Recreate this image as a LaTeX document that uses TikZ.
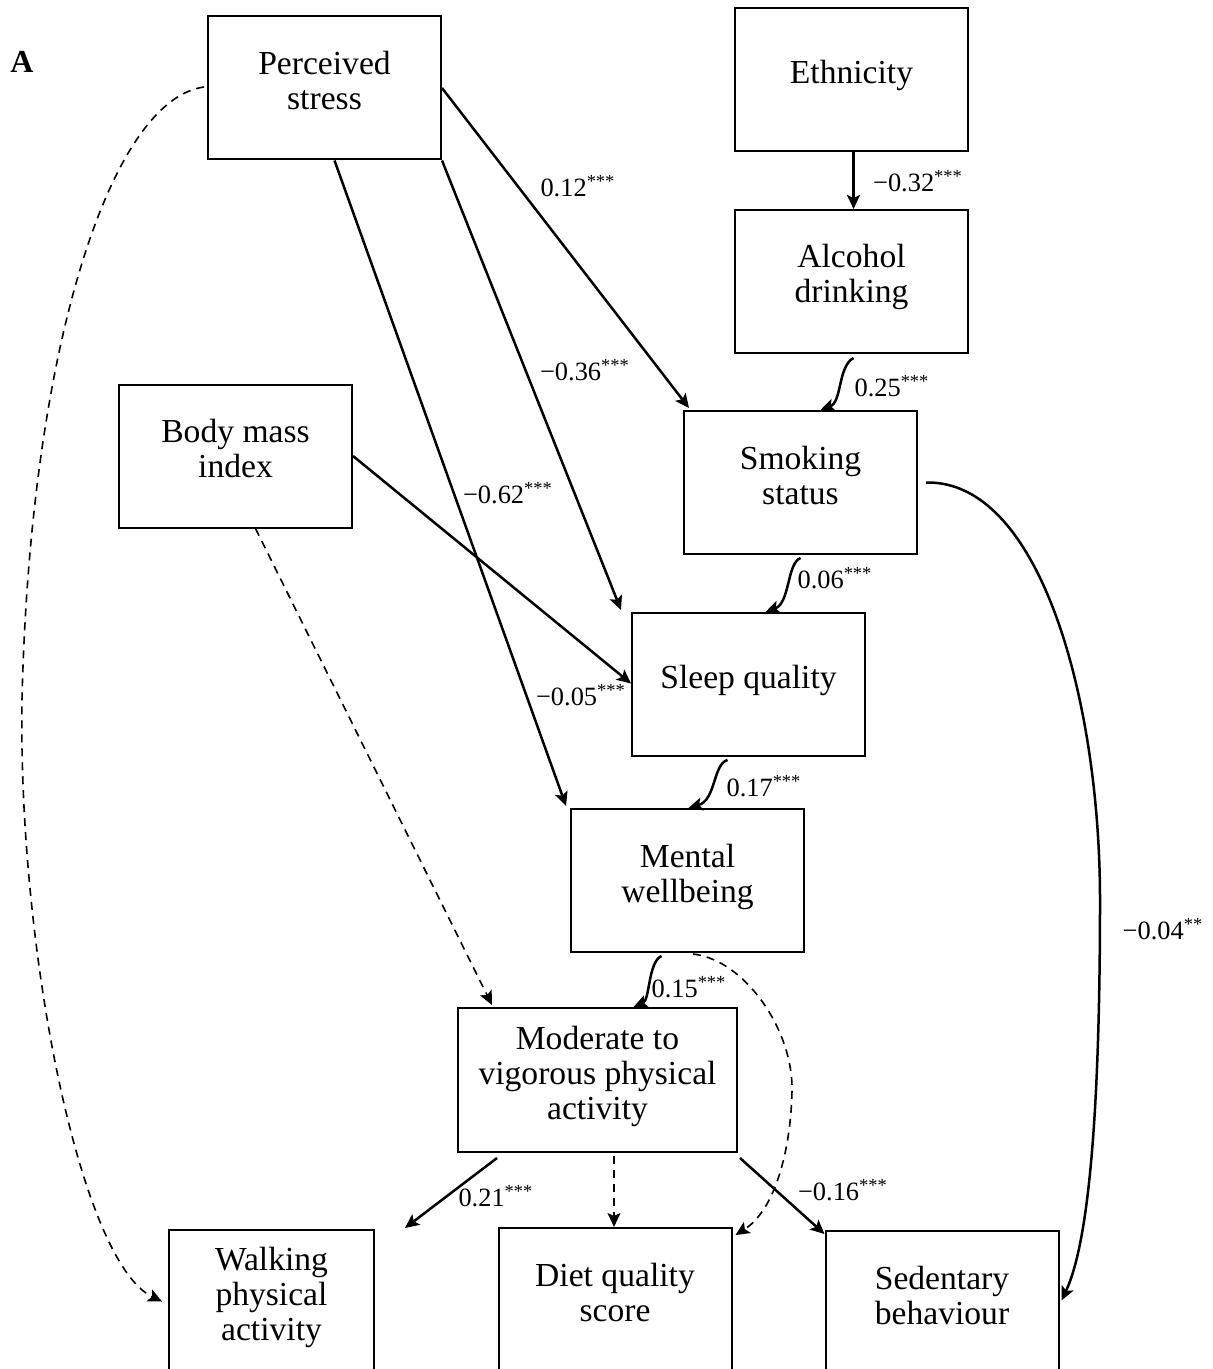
\documentclass[tikz,border=0pt]{standalone}
\usepackage{fontspec}
\setmainfont{Liberation Serif}
\usetikzlibrary{arrows.meta}
\newcommand\bxt[1]{\raisebox{1.5pt}[\height][\depth]{\begin{tabular}{@{}c@{}}#1\end{tabular}}}
\tikzset{
  bx/.style={draw, line width=1pt, minimum width=116.5pt, minimum height=71.5pt, inner sep=0pt,
    font=\fontsize{16.8}{17.5}\selectfont},
  lbl/.style={inner sep=0pt, font=\fontsize{13.2}{14}\selectfont},
  tip/.style={-{Stealth[length=7pt,width=6.5pt,inset=1.5pt]}},
  sol/.style={tip, line width=1.25pt},
  dsh/.style={tip, line width=0.8pt, dash pattern=on 4pt off 3pt}
}
\begin{document}
\begin{tikzpicture}[x=0.5pt,y=-0.5pt]
\useasboundingbox (0,0) rectangle (1212,1369);
\clip (0,0) rectangle (1212,1369);
\fill[white] (0,0) rectangle (1212,1369);

\node[font=\fontsize{16}{17}\selectfont\bfseries] (A) at (22,62) {A};

\node[bx] (ps)   at (324.5,88)   {\bxt{Perceived\\stress}};
\node[bx] (eth)  at (851.5,79.5) {\bxt{Ethnicity}};
\node[bx] (alc)  at (851.5,281.5){\bxt{Alcohol\\drinking}};
\node[bx] (bmi)  at (235.5,456)  {\bxt{Body mass\\index}};
\node[bx] (smk)  at (800.5,482.5){\bxt{Smoking\\status}};
\node[bx] (slp)  at (748.5,684.5){\bxt{Sleep quality}};
\node[bx] (mw)   at (687.5,880.5){\bxt{Mental\\wellbeing}};
\node[bx, minimum width=139.5pt, minimum height=72pt] (mv) at (597.5,1080)
  {\bxt{Moderate to\\vigorous physical\\activity}};
\node[bx, minimum width=102.5pt] (walk) at (271.5,1301.5){\bxt{Walking\\physical\\activity}};
\node[bx] (diet) at (615,1299.5) {\bxt{Diet quality\\score}};
\node[bx] (sed)  at (942,1302.5) {\bxt{Sedentary\\behaviour}};

% solid straight
\draw[sol] (ps.east) -- ([shift={(6,-2)}]smk.north west);
\draw[sol] (ps.south east) -- ([shift={(-10,-2)}]slp.north west);
\draw[sol] ([shift={(10,0)}]ps.south) -- ([shift={(-4,-2)}]mw.north west);
\draw[sol] (bmi.east) -- ([shift={(0,-1)}]slp.west);
\draw[sol] ([shift={(2,0)}]eth.south) -- ([shift={(2,0)}]alc.north);
% s-curves
\draw[sol] ([shift={(2,4)}]alc.south) .. controls (838,366) and (842,402) .. ([shift={(20,0)}]smk.north);
\draw[sol] ([shift={(0,3)}]smk.south) .. controls (787,563) and (790,603) .. ([shift={(17,0)}]slp.north);
\draw[sol] ([shift={(-21,3)}]slp.south) .. controls (713,764) and (716,800) .. ([shift={(1,0)}]mw.north);
\draw[sol] ([shift={(-26,3)}]mw.south) .. controls (648,962) and (650,1000) .. ([shift={(36,0)}]mv.north);
% dashed
\draw[dsh] ([shift={(5.5,1)}]mw.south) .. controls (745,960) and (793,1030) .. (792,1090)
  .. controls (791,1150) and (775,1210) .. ([shift={(3,8)}]diet.north east);
\draw[dsh] ([shift={(20,0)}]bmi.south) -- ([shift={(35,-2)}]mv.north west);
\draw[dsh] ([shift={(-3,-1)}]ps.west) .. controls (110,100) and (30,350) .. (22,700)
  .. controls (18,950) and (80,1262) .. ([shift={(-6,0)}]walk.west);
\draw[dsh] ([shift={(16.5,3)}]mv.south) -- ([shift={(-1,0)}]diet.north);
% bottom solid
\draw[sol] ([shift={(40,5)}]mv.south west) -- ([shift={(30,-1)}]walk.north east);
\draw[sol] ([shift={(2,5)}]mv.south east) -- ([shift={(0,4)}]sed.north west);
\draw[sol] ([shift={(8,0)}]smk.east) .. controls (1040,480) and (1100,700) .. (1100,900)
  .. controls (1100,1100) and (1090,1240) .. ([shift={(2,-2)}]sed.east);

% labels
\node[lbl] (l1)  at (578,186)  {0.12\textsuperscript{***}};
\node[lbl] (l2)  at (918,181)  {−0.32\textsuperscript{***}};
\node[lbl] (l3)  at (585,370)  {−0.36\textsuperscript{***}};
\node[lbl] (l4)  at (892,386)  {0.25\textsuperscript{***}};
\node[lbl] (l5)  at (508,493)  {−0.62\textsuperscript{***}};
\node[lbl] (l6)  at (835,578)  {0.06\textsuperscript{***}};
\node[lbl] (l7)  at (581,695)  {−0.05\textsuperscript{***}};
\node[lbl] (l8)  at (764,786)  {0.17\textsuperscript{***}};
\node[lbl] (l9)  at (689,987)  {0.15\textsuperscript{***}};
\node[lbl] (l10) at (496,1196) {0.21\textsuperscript{***}};
\node[lbl] (l11) at (843,1190) {−0.16\textsuperscript{***}};
\node[lbl] (l12) at (1163,929) {−0.04\textsuperscript{**}};
\end{tikzpicture}
\end{document}
